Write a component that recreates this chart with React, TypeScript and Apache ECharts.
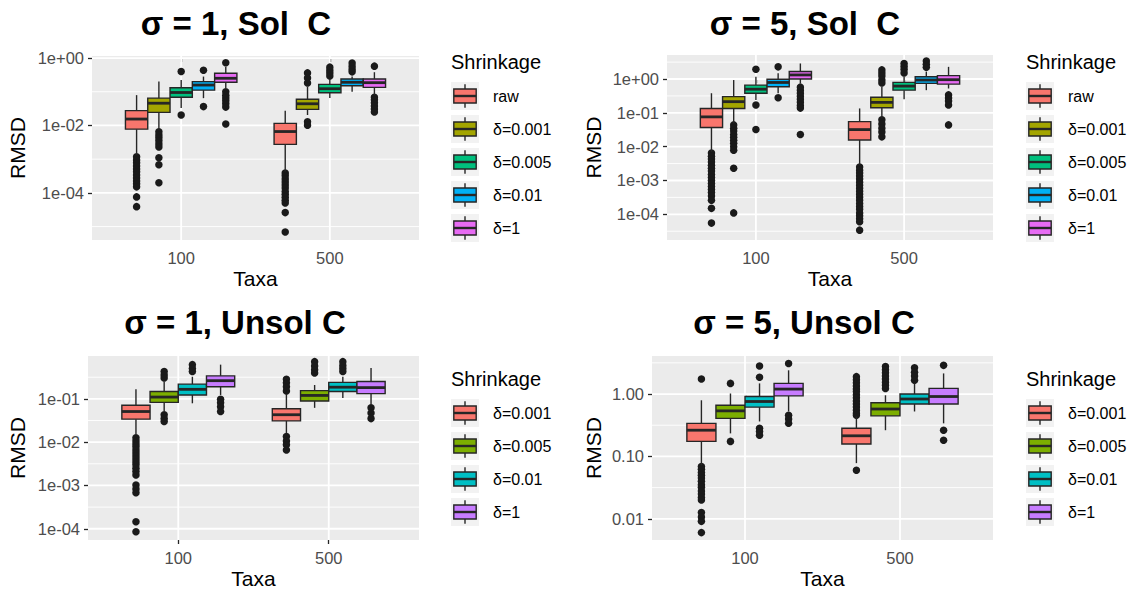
import React, { useEffect, useRef } from "react";
import * as echarts from "echarts";

// ---------- data ----------
const TAXA = ["100", "500"];
const SOL_LEVELS = ["raw", "δ=0.001", "δ=0.005", "δ=0.01", "δ=1"];
const UNSOL_LEVELS = ["δ=0.001", "δ=0.005", "δ=0.01", "δ=1"];
const SOL_COLORS = ["#F8766D", "#A3A500", "#00BF7D", "#00B0F6", "#E76BF3"];
const UNSOL_COLORS = ["#F8766D", "#7CAE00", "#00BFC4", "#C77CFF"];

// box stats per level, per taxa (100, 500): [lower whisker, Q1, median, Q3, upper whisker]
const sig1SolStats = [
  [[1.35e-3, 7.76e-3, 1.55e-2, 2.75e-2, 7.94e-2], [4.3e-4, 2.75e-3, 6.6e-3, 1.15e-2, 2.75e-2]],
  [[7.4e-3, 2.45e-2, 4.57e-2, 6.46e-2, 0.2], [2.04e-2, 3.0e-2, 4.4e-2, 6.0e-2, 0.141]],
  [[3.3e-2, 6.9e-2, 9.5e-2, 0.132, 0.224], [6.5e-2, 9.3e-2, 0.123, 0.166, 0.24]],
  [[6.46e-2, 0.112, 0.158, 0.2, 0.282], [0.1, 0.151, 0.191, 0.24, 0.282]],
  [[0.126, 0.191, 0.251, 0.355, 0.55], [7.9e-2, 0.135, 0.186, 0.24, 0.38]],
];
const sig1SolOutliers = [
  [[1.17e-3, 9.5e-4, 7.8e-4, 6.3e-4, 5.1e-4, 4.2e-4, 3.4e-4, 2.75e-4, 2.24e-4, 1.86e-4, 1.51e-4, 7.6e-5, 3.9e-5],
   [3.9e-4, 3.2e-4, 2.6e-4, 2.1e-4, 1.7e-4, 1.4e-4, 1.1e-4, 9.1e-5, 7.4e-5, 6.0e-5, 5.0e-5, 2.6e-5, 6.9e-6]],
  [[6.5e-3, 5.2e-3, 4.3e-3, 3.5e-3, 2.8e-3, 2.3e-3, 1.1e-3, 6.8e-4, 2.0e-4], [0.363, 0.257, 0.182, 1.29e-2, 1.02e-2]],
  [[0.398, 2.04e-2], [0.537, 0.437, 0.363, 0.295]],
  [[0.437, 3.63e-2], [0.708, 0.575, 0.468, 0.389]],
  [[0.724, 0.1, 7.9e-2, 6.5e-2, 5.4e-2, 4.4e-2, 3.5e-2, 1.1e-2], [0.575, 6.9e-2, 5.75e-2, 4.7e-2, 3.8e-2, 3.1e-2, 2.5e-2]],
];

const sig5SolStats = [
  [[7.1e-3, 3.7e-2, 7.6e-2, 0.135, 0.38], [2.9e-3, 1.58e-2, 3.2e-2, 5.5e-2, 0.135]],
  [[4.9e-2, 0.135, 0.214, 0.302, 0.933], [6.9e-2, 0.141, 0.204, 0.288, 0.589]],
  [[0.24, 0.38, 0.5, 0.66, 1.17], [0.251, 0.468, 0.617, 0.794, 1.17]],
  [[0.38, 0.59, 0.79, 0.98, 1.48], [0.468, 0.741, 0.933, 1.17, 1.66]],
  [[0.74, 1.0, 1.32, 1.66, 2.88], [0.525, 0.708, 0.955, 1.26, 2.29]],
];
const sig5SolOutliers = [
  [[6.5e-3, 5.2e-3, 4.3e-3, 3.5e-3, 2.8e-3, 2.3e-3, 1.9e-3, 1.5e-3, 1.23e-3, 1e-3, 8.1e-4, 6.6e-4, 5.4e-4, 4.4e-4, 3.5e-4, 2.6e-4, 1.5e-4, 5.5e-5],
   [2.5e-3, 2.0e-3, 1.66e-3, 1.35e-3, 1.1e-3, 8.9e-4, 7.2e-4, 5.9e-4, 4.8e-4, 3.9e-4, 3.2e-4, 2.6e-4, 2.1e-4, 1.7e-4, 1.4e-4, 1.1e-4, 9.1e-5, 7.4e-5, 6.0e-5, 3.4e-5]],
  [[4.4e-2, 3.5e-2, 2.9e-2, 2.3e-2, 1.9e-2, 1.55e-2, 1.26e-2, 1.0e-2, 7.9e-3, 2.3e-3, 1.1e-4],
   [1.86, 1.51, 1.23, 0.933, 0.759, 6.2e-2, 4.7e-2, 3.5e-2, 2.7e-2, 1.95e-2]],
  [[1.95, 0.17, 3.2e-2], [2.88, 2.34, 1.9, 1.51]],
  [[2.29, 0.28], [3.39, 2.75, 2.24]],
  [[0.575, 0.468, 0.38, 0.309, 0.251, 0.204, 0.166, 0.138, 2.3e-2], [0.339, 0.275, 0.224, 0.17, 4.4e-2]],
];

const sig1UnsolStats = [
  [[1.48e-2, 3.4e-2, 5.1e-2, 7.1e-2, 0.166], [1.62e-2, 3.1e-2, 4.3e-2, 5.9e-2, 0.123]],
  [[5.1e-2, 8.3e-2, 0.11, 0.148, 0.251], [6.2e-2, 8.9e-2, 0.12, 0.155, 0.209]],
  [[7.9e-2, 0.123, 0.166, 0.219, 0.324], [0.105, 0.148, 0.186, 0.24, 0.324]],
  [[0.123, 0.191, 0.263, 0.339, 0.617], [7.1e-2, 0.132, 0.182, 0.251, 0.513]],
];
const sig1UnsolOutliers = [
  [[1.26e-2, 1.07e-2, 9.1e-3, 7.8e-3, 6.6e-3, 5.6e-3, 4.8e-3, 4.1e-3, 3.5e-3, 3.0e-3, 2.5e-3, 2.1e-3, 1.74e-3, 1.02e-3, 8.3e-4, 6.8e-4, 1.45e-4, 8.5e-5],
   [0.282, 0.234, 0.191, 0.151, 1.35e-2, 1.07e-2, 8.7e-3, 6.6e-3]],
  [[0.427, 0.355, 0.302, 4.3e-2, 3.5e-2, 3.0e-2], [0.724, 0.575, 0.468, 0.398]],
  [[0.617, 0.5, 0.427], [0.724, 0.589, 0.5, 0.427]],
  [[9.8e-2, 8.1e-2, 6.6e-2, 5.1e-2], [6.2e-2, 4.7e-2, 3.5e-2]],
];

const sig5UnsolStats = [
  [[7.2e-2, 0.174, 0.263, 0.339, 0.794], [7.8e-2, 0.158, 0.214, 0.282, 0.437]],
  [[0.234, 0.407, 0.537, 0.66, 1.02], [0.263, 0.447, 0.575, 0.724, 0.955]],
  [[0.363, 0.617, 0.759, 0.912, 1.48], [0.525, 0.692, 0.832, 1.0, 1.48]],
  [[0.525, 0.933, 1.2, 1.48, 2.4], [0.339, 0.692, 0.912, 1.23, 2.14]],
];
const sig5UnsolOutliers = [
  [[1.74, 6.9e-2, 6.2e-2, 5.5e-2, 5.0e-2, 4.5e-2, 4.0e-2, 3.5e-2, 3.2e-2, 2.8e-2, 2.5e-2, 2.2e-2, 2.0e-2, 1.26e-2, 1.07e-2, 9.1e-3, 6.0e-3],
   [1.9, 1.7, 1.51, 1.35, 1.2, 1.1, 0.977, 0.871, 0.776, 0.692, 0.617, 0.55, 0.49, 0.457, 6.0e-2]],
  [[1.48, 0.174], [2.75, 2.45, 2.19, 1.95, 1.74, 1.55, 1.38, 1.23]],
  [[2.82, 1.86, 0.282, 0.251, 0.219], [2.63, 2.24, 1.95, 1.66]],
  [[3.09, 0.457, 0.398, 0.339], [2.88, 0.263, 0.182]],
];

// axis ranges and breaks
const sig1SolRange = [4e-6, 1.15];
const sig1SolTicks = [1e-4, 1e-2, 1];
const sig1SolTickLabels = ["1e-04", "1e-02", "1e+00"];
const sig1SolMinor = [1e-5, 1e-3, 1e-1];

const sig5SolRange = [1.74e-5, 5.13];
const sig5SolTicks = [1e-4, 1e-3, 1e-2, 1e-1, 1];
const sig5SolTickLabels = ["1e-04", "1e-03", "1e-02", "1e-01", "1e+00"];
const sig5SolMinor = [10 ** -4.5, 10 ** -3.5, 10 ** -2.5, 10 ** -1.5, 10 ** -0.5, 10 ** 0.5];

const sig1UnsolRange = [5.5e-5, 0.977];
const sig1UnsolTicks = [1e-4, 1e-3, 1e-2, 1e-1];
const sig1UnsolTickLabels = ["1e-04", "1e-03", "1e-02", "1e-01"];
const sig1UnsolMinor = [10 ** -3.5, 10 ** -2.5, 10 ** -1.5, 10 ** -0.5];

const sig5UnsolRange = [4.57e-3, 4.07];
const sig5UnsolTicks = [0.01, 0.1, 1];
const sig5UnsolTickLabels = ["0.01", "0.10", "1.00"];
const sig5UnsolMinor = [10 ** -1.5, 10 ** -0.5, 10 ** 0.5];

// ---------- layout ----------
const FONT = "'Liberation Sans', Arial, Helvetica, sans-serif";
const L = (v: number) => Math.log10(v);

const panels = [
  { title: "σ = 1, Sol  C", tx: 236, ty: 23, grid: { left: 92, top: 56, width: 327, height: 184 }, yGap: 64,
    range: sig1SolRange, ticks: sig1SolTicks, labels: sig1SolTickLabels, minor: sig1SolMinor,
    levels: SOL_LEVELS, colors: SOL_COLORS, stats: sig1SolStats, outliers: sig1SolOutliers,
    lx: 451, ltY: 62, lr0: 96 },
  { title: "σ = 5, Sol  C", tx: 805, ty: 23, grid: { left: 667, top: 55, width: 326, height: 185 }, yGap: 63,
    range: sig5SolRange, ticks: sig5SolTicks, labels: sig5SolTickLabels, minor: sig5SolMinor,
    levels: SOL_LEVELS, colors: SOL_COLORS, stats: sig5SolStats, outliers: sig5SolOutliers,
    lx: 1026, ltY: 62, lr0: 96 },
  { title: "σ = 1, Unsol C", tx: 235, ty: 322, grid: { left: 88, top: 356, width: 331, height: 184 }, yGap: 60,
    range: sig1UnsolRange, ticks: sig1UnsolTicks, labels: sig1UnsolTickLabels, minor: sig1UnsolMinor,
    levels: UNSOL_LEVELS, colors: UNSOL_COLORS, stats: sig1UnsolStats, outliers: sig1UnsolOutliers,
    lx: 451, ltY: 379, lr0: 413 },
  { title: "σ = 5, Unsol C", tx: 804, ty: 322, grid: { left: 652, top: 356, width: 341, height: 184 }, yGap: 48,
    range: sig5UnsolRange, ticks: sig5UnsolTicks, labels: sig5UnsolTickLabels, minor: sig5UnsolMinor,
    levels: UNSOL_LEVELS, colors: UNSOL_COLORS, stats: sig5UnsolStats, outliers: sig5UnsolOutliers,
    lx: 1026, ltY: 379, lr0: 413 },
];

const DODGE = 0.75;
const EDGE = "#262626";
const ROW = 33;
const KEY = 28;

function buildOption() {
  const grid: any[] = [];
  const xAxis: any[] = [];
  const yAxis: any[] = [];
  const series: any[] = [];
  const graphic: any[] = [];

  panels.forEach((p, i) => {
    grid.push({ ...p.grid, show: true, backgroundColor: "#EBEBEB", borderWidth: 0 });
    xAxis.push({
      type: "value", gridIndex: i, min: 0.4, max: 2.6,
      axisLine: { show: false }, splitLine: { show: false },
      axisTick: { show: true, customValues: [1, 2], length: 4, lineStyle: { color: EDGE, width: 1.3 } },
      axisLabel: { customValues: [1, 2], formatter: (v: number) => TAXA[Math.round(v) - 1] ?? "",
        color: "#4D4D4D", fontSize: 16.5, fontFamily: FONT, margin: 9 },
      name: "Taxa", nameLocation: "middle", nameGap: 28,
      nameTextStyle: { fontSize: 21, color: "#000", fontFamily: FONT },
    });
    const tickLogs = p.ticks.map(L);
    yAxis.push({
      type: "value", gridIndex: i, min: L(p.range[0]), max: L(p.range[1]),
      axisLine: { show: false }, splitLine: { show: false },
      axisTick: { show: true, customValues: tickLogs, length: 4, lineStyle: { color: EDGE, width: 1.3 } },
      axisLabel: {
        customValues: tickLogs,
        formatter: (v: number) => {
          const j = tickLogs.findIndex((t) => Math.abs(t - v) < 1e-6);
          return j >= 0 ? p.labels[j] : "";
        },
        color: "#4D4D4D", fontSize: 16.5, fontFamily: FONT, margin: 8,
      },
      name: "RMSD", nameLocation: "middle", nameGap: p.yGap,
      nameTextStyle: { fontSize: 21, color: "#000", fontFamily: FONT },
    });

    // grid lines (minor, major horizontal; major vertical at categories)
    const hLines = [
      ...p.minor.map((v) => [1, L(v), 0.9]),
      ...p.ticks.map((v) => [1, L(v), 1.8]),
    ];
    series.push({
      type: "custom", xAxisIndex: i, yAxisIndex: i, silent: true, z: 1, clip: true,
      data: hLines,
      encode: { x: 0, y: 1 },
      renderItem: (params: any, api: any) => {
        const cs = params.coordSys;
        const y = api.coord([1, api.value(1)])[1];
        return { type: "line", shape: { x1: cs.x, y1: y, x2: cs.x + cs.width, y2: y },
          style: { stroke: "#FFFFFF", lineWidth: api.value(2) } };
      },
    });
    series.push({
      type: "custom", xAxisIndex: i, yAxisIndex: i, silent: true, z: 1,
      data: TAXA.map((_, t) => [t + 1, L(p.ticks[0])]),
      encode: { x: 0, y: 1 },
      renderItem: (params: any, api: any) => {
        const cs = params.coordSys;
        const x = api.coord([api.value(0), api.value(1)])[0];
        return { type: "line", shape: { x1: x, y1: cs.y, x2: x, y2: cs.y + cs.height },
          style: { stroke: "#FFFFFF", lineWidth: 1.8 } };
      },
    });

    const n = p.levels.length;
    const slot = DODGE / n;
    p.levels.forEach((lv, k) => {
      const off = -DODGE / 2 + (k + 0.5) * slot;
      const color = p.colors[k];
      // outliers
      const pts: number[][] = [];
      TAXA.forEach((_, t) => {
        p.outliers[k][t].forEach((v: number) => pts.push([t + 1 + off, L(v)]));
      });
      series.push({
        type: "scatter", name: lv, xAxisIndex: i, yAxisIndex: i, silent: true, z: 2,
        data: pts, symbol: "circle", symbolSize: 7.5,
        itemStyle: { color: "#1A1A1A", opacity: 1 },
      });
      // boxes
      series.push({
        type: "custom", name: lv, xAxisIndex: i, yAxisIndex: i, silent: true, z: 3,
        data: TAXA.map((_, t) => [t + 1 + off, ...p.stats[k][t].map(L)]),
        encode: { x: 0, y: [1, 2, 3, 4, 5] },
        renderItem: (params: any, api: any) => {
          const x = api.value(0);
          const lo = api.coord([x, api.value(1)]);
          const q1 = api.coord([x, api.value(2)]);
          const md = api.coord([x, api.value(3)]);
          const q3 = api.coord([x, api.value(4)]);
          const hi = api.coord([x, api.value(5)]);
          const w = api.size([slot, 0])[0];
          const cx = lo[0];
          return {
            type: "group",
            children: [
              { type: "line", shape: { x1: cx, y1: hi[1], x2: cx, y2: q3[1] }, style: { stroke: EDGE, lineWidth: 1.4 } },
              { type: "line", shape: { x1: cx, y1: q1[1], x2: cx, y2: lo[1] }, style: { stroke: EDGE, lineWidth: 1.4 } },
              { type: "rect", shape: { x: cx - w / 2, y: q3[1], width: w, height: q1[1] - q3[1] },
                style: { fill: color, stroke: EDGE, lineWidth: 1.4 } },
              { type: "line", shape: { x1: cx - w / 2, y1: md[1], x2: cx + w / 2, y2: md[1] },
                style: { stroke: EDGE, lineWidth: 2.8 } },
            ],
          };
        },
      });
    });

    // title
    graphic.push({
      type: "text", x: p.tx, y: p.ty, silent: true,
      style: { text: p.title, fontSize: 33, fontWeight: "bold", fontFamily: FONT, fill: "#000",
        textAlign: "center", textVerticalAlign: "middle" },
    });
    // legend
    graphic.push({
      type: "text", x: p.lx, y: p.ltY, silent: true,
      style: { text: "Shrinkage", fontSize: 20, fontFamily: FONT, fill: "#000", textAlign: "left", textVerticalAlign: "middle" },
    });
    p.levels.forEach((lv, k) => {
      const cy = p.lr0 + k * ROW;
      const x0 = p.lx;
      const cx = x0 + KEY / 2;
      graphic.push({ type: "rect", silent: true, shape: { x: x0, y: cy - KEY / 2, width: KEY, height: KEY }, style: { fill: "#F2F2F2" } });
      graphic.push({ type: "line", silent: true, shape: { x1: cx, y1: cy - KEY * 0.42, x2: cx, y2: cy + KEY * 0.42 }, style: { stroke: EDGE, lineWidth: 1.4 } });
      graphic.push({ type: "rect", silent: true, shape: { x: x0 + KEY * 0.1, y: cy - KEY * 0.25, width: KEY * 0.8, height: KEY * 0.5 },
        style: { fill: p.colors[k], stroke: EDGE, lineWidth: 1.4 } });
      graphic.push({ type: "line", silent: true, shape: { x1: x0 + KEY * 0.1, y1: cy, x2: x0 + KEY * 0.9, y2: cy }, style: { stroke: EDGE, lineWidth: 2.4 } });
      graphic.push({ type: "text", x: x0 + KEY + 14, y: cy, silent: true,
        style: { text: lv, fontSize: 16, fontFamily: FONT, fill: "#000", textAlign: "left", textVerticalAlign: "middle" } });
    });
  });

  return { animation: false, backgroundColor: "#FFFFFF", grid, xAxis, yAxis, series, graphic };
}

export default function App() {
  const ref = useRef<HTMLDivElement>(null);
  useEffect(() => {
    if (!ref.current) return;
    const chart = echarts.init(ref.current, null, { renderer: "svg" });
    chart.setOption(buildOption() as any);
    return () => chart.dispose();
  }, []);
  return (
    <div
      ref={ref}
      style={{ position: "absolute", left: 0, top: 0, width: 1134, height: 593, background: "#fff" }}
    />
  );
}
